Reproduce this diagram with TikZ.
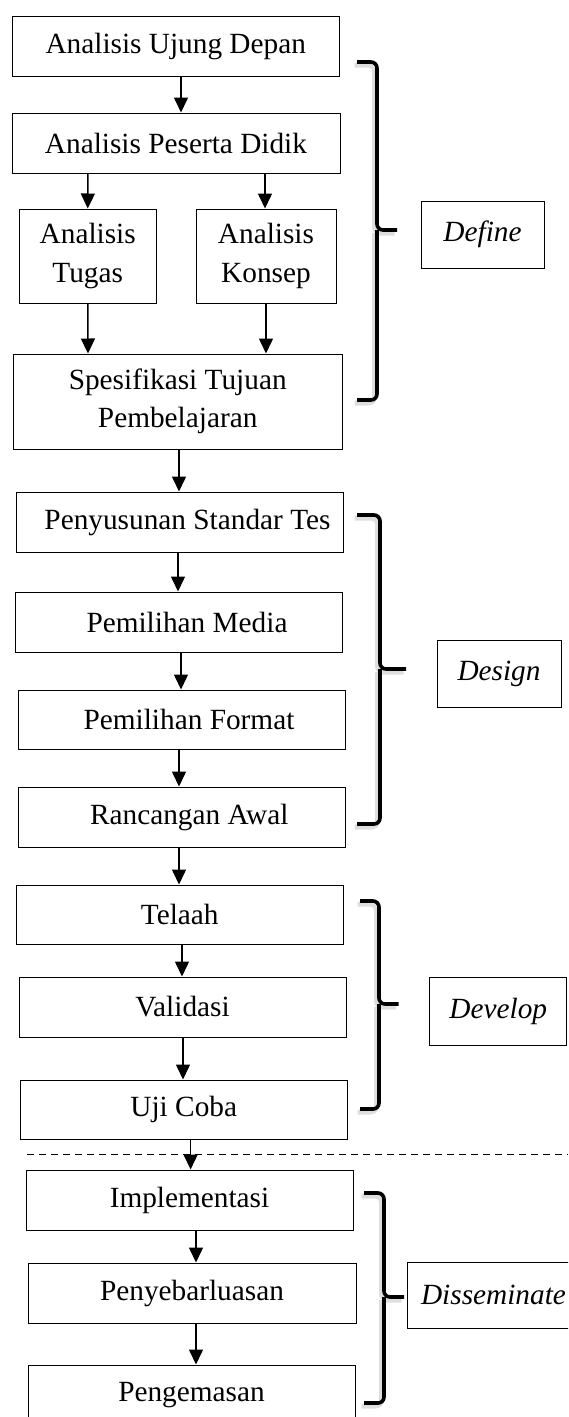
\documentclass[tikz,border=0pt]{standalone}
\usepackage{fontspec}
\setmainfont{Liberation Serif}
\usetikzlibrary{arrows.meta}
\tikzset{
  box/.style={draw, line width=1pt, inner sep=0pt, align=center,
    font=\fontsize{29.3}{38.5}\selectfont},
  phase/.style={box, font=\fontsize{29.3}{38.5}\selectfont\itshape},
  arr/.style={line width=1.5pt, -{Triangle[length=15pt,width=14pt]}},
  brace/.style={line width=3.6pt, rounded corners=6pt},
  braceshadow/.style={line width=5pt, rounded corners=6pt, draw=black!13, shift={(-2.5,3)}},
  sepline/.style={dash pattern=on 7pt off 5pt, line width=1pt}
}
\begin{document}
\begin{tikzpicture}[x=1pt,y=-1pt]
\useasboundingbox (0,0) rectangle (568,1417);
\clip (0,0) rectangle (568,1417);

% Define phase
\node[box, minimum width=327.5pt, minimum height=60pt] (n1) at (175.75,46) {Analisis Ujung Depan};
\node[box, minimum width=328pt, minimum height=60pt] (n2) at (176,143) {Analisis Peserta Didik};
\node[box, minimum width=137.5pt, minimum height=94pt] (n3) at (87.75,256) {Analisis\\Tugas};
\node[box, minimum width=140pt, minimum height=94pt] (n4) at (266,256) {Analisis\\Konsep};
\node[box, minimum width=328.6pt, minimum height=95pt] (n5) at (177.7,401.5) {Spesifikasi Tujuan\\Pembelajaran};

% Design phase
\node[box, minimum width=327pt, minimum height=60pt] (n6) at (180,522) {\hspace{15pt}Penyusunan Standar Tes};
\node[box, minimum width=327pt, minimum height=60pt] (n7) at (179,622) {\hspace{16pt}Pemilihan Media};
\node[box, minimum width=327pt, minimum height=59pt] (n8) at (181.5,719.5) {\hspace{15pt}Pemilihan Format};
\node[box, minimum width=326.5pt, minimum height=60pt] (n9) at (181.75,817) {\hspace{15pt}Rancangan Awal};

% Develop phase
\node[box, minimum width=327.5pt, minimum height=59pt] (n10) at (179.75,914.5) {Telaah};
\node[box, minimum width=327pt, minimum height=60pt] (n11) at (182.5,1007) {Validasi};
\node[box, minimum width=327.5pt, minimum height=59pt] (n12) at (183.75,1109.5) {Uji Coba};

% Disseminate phase
\node[box, minimum width=327pt, minimum height=60pt] (n13) at (189.5,1200) {Implementasi};
\node[box, minimum width=328pt, minimum height=60pt] (n14) at (192,1293) {Penyebarluasan};
\node[box, minimum width=327pt, minimum height=60pt] (n15) at (191.5,1395) {Pengemasan};

% Phase labels
\node[phase, minimum width=123pt, minimum height=67pt] (pdef) at (482.5,234.5) {Define};
\node[phase, minimum width=124pt, minimum height=67pt] (pdes) at (499,673.5) {Design};
\node[phase, minimum width=136.7pt, minimum height=68pt] (pdev) at (498.3,1011) {Develop};
\node[phase, minimum width=173pt, minimum height=66pt] (pdis) at (493.5,1295) {Disseminate};

% separator
\draw[sepline] (27,1154) -- (568,1154);

% arrows
\draw[arr] ([xshift=5.25pt]n1.south) -- ([xshift=5pt]n2.north);
\draw[arr] ([xshift=-88pt]n2.south) -- (n3.north);
\draw[arr] ([xshift=89pt]n2.south) -- ([xshift=-1pt]n4.north);
\draw[arr] (n3.south) -- ([xshift=-89.7pt]n5.north);
\draw[arr] (n4.south) -- ([xshift=88.3pt]n5.north);
\draw[arr] ([xshift=1.3pt]n5.south) -- ([xshift=-1pt]n6.north);
\draw[arr] ([xshift=-2pt]n6.south) -- ([xshift=-1pt]n7.north);
\draw[arr] ([xshift=2pt]n7.south) -- ([xshift=-0.5pt]n8.north);
\draw[arr] ([xshift=-2.5pt]n8.south) -- ([xshift=-2.75pt]n9.north);
\draw[arr] ([xshift=-2.75pt]n9.south) -- ([xshift=-0.75pt]n10.north);
\draw[arr] ([xshift=2.25pt]n10.south) -- ([xshift=-0.5pt]n11.north);
\draw[arr] ([xshift=0.5pt]n11.south) -- ([xshift=-0.75pt]n12.north);
\draw[arr] ([xshift=6.85pt]n12.south) -- ([xshift=1.1pt]n13.north);
\draw[arr] ([xshift=6.5pt]n13.south) -- ([xshift=4pt]n14.north);
\draw[arr] ([xshift=4pt]n14.south) -- ([xshift=4.5pt]n15.north);

% brace shadows
\draw[braceshadow] (357,62) -- (377,62) -- (377,230) -- (397,230);
\draw[braceshadow] (377,230) -- (377,400) -- (357,400);
\draw[braceshadow] (357,515) -- (380,515) -- (380,669) -- (406,669);
\draw[braceshadow] (380,669) -- (380,824) -- (357,824);
\draw[braceshadow] (360,901) -- (379,901) -- (379,1004) -- (398.5,1004);
\draw[braceshadow] (379,1004) -- (379,1109) -- (360,1109);
\draw[braceshadow] (364,1193) -- (384,1193) -- (384,1297) -- (404,1297);
\draw[braceshadow] (384,1297) -- (384,1403) -- (364,1403);

% braces
\draw[brace] (357,62) -- (377,62) -- (377,230) -- (397,230);
\draw[brace] (377,230) -- (377,400) -- (357,400);
\draw[brace] (357,515) -- (380,515) -- (380,669) -- (406,669);
\draw[brace] (380,669) -- (380,824) -- (357,824);
\draw[brace] (360,901) -- (379,901) -- (379,1004) -- (398.5,1004);
\draw[brace] (379,1004) -- (379,1109) -- (360,1109);
\draw[brace] (364,1193) -- (384,1193) -- (384,1297) -- (404,1297);
\draw[brace] (384,1297) -- (384,1403) -- (364,1403);
\end{tikzpicture}
\end{document}
